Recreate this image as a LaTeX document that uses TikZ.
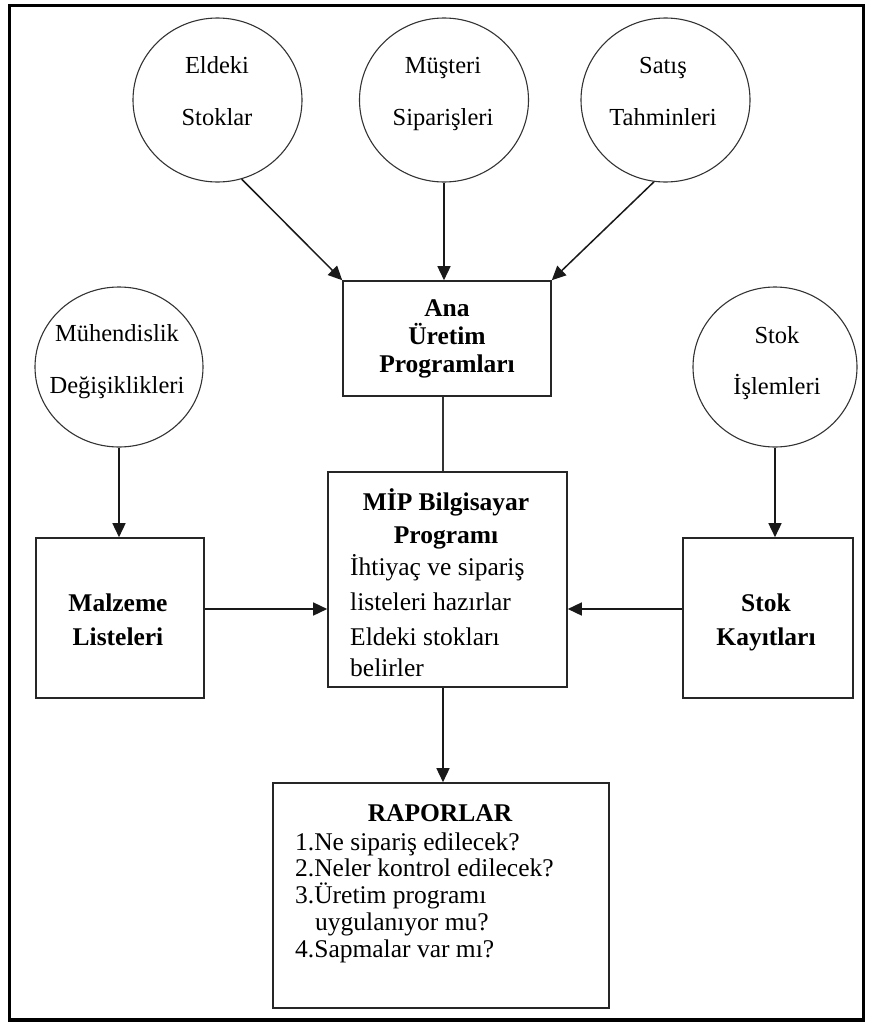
\documentclass[tikz,border=0pt]{standalone}
\usepackage{fontspec}
\setmainfont{Liberation Serif}
\usetikzlibrary{shapes.geometric,arrows.meta}
\begin{document}
\begin{tikzpicture}[x=1pt,y=-1pt,
  oval/.style={ellipse,draw=black!80,line width=1.1pt,inner sep=0pt},
  boxnode/.style={rectangle,draw=black!85,line width=1.6pt,inner sep=0pt},
  ovaltxt/.style={font=\fontsize{24.5}{28}\selectfont,inner sep=0pt,anchor=base},
  headtxt/.style={font=\fontsize{25.5}{28}\selectfont\bfseries,inner sep=0pt,anchor=base},
  bodytxt/.style={font=\fontsize{25.5}{28}\selectfont,inner sep=0pt,anchor=base west},
  arr/.style={draw=black!90,line width=1.5pt,-{Triangle[length=14pt,width=13pt]}},
  link/.style={draw=black!80,line width=1.5pt}]
\useasboundingbox (0,0) rectangle (869,1028);

% outer frame
\draw[line width=3.5pt] (9.5,5.5) rectangle (863.5,1020);

% input ovals
\node[oval,minimum width=169pt,minimum height=164pt] (e1) at (217.5,100) {};
\node[oval,minimum width=169pt,minimum height=164pt] (e2) at (444,100) {};
\node[oval,minimum width=169pt,minimum height=164pt] (e3) at (665.5,100) {};
\node[oval,minimum width=168pt,minimum height=160pt] (e4) at (119,367) {};
\node[oval,minimum width=164pt,minimum height=160pt] (e5) at (775,367) {};

\node[ovaltxt] (e1a) at (217,73) {Eldeki};
\node[ovaltxt] (e1b) at (217,125) {Stoklar};
\node[ovaltxt] (e2a) at (443,73) {Müşteri};
\node[ovaltxt] (e2b) at (443,125) {Siparişleri};
\node[ovaltxt] (e3a) at (663,73) {Satış};
\node[ovaltxt] (e3b) at (663,125) {Tahminleri};
\node[ovaltxt] (e4a) at (117,341) {Mühendislik};
\node[ovaltxt] (e4b) at (117,393) {Değişiklikleri};
\node[ovaltxt] (e5a) at (777,343) {Stok};
\node[ovaltxt] (e5b) at (777,394) {İşlemleri};

% boxes
\node[boxnode,minimum width=208pt,minimum height=115pt] (ana) at (447,338.5) {};
\node[boxnode,minimum width=239pt,minimum height=215pt] (mip) at (447.5,579.5) {};
\node[boxnode,minimum width=168pt,minimum height=160pt] (mal) at (120,618) {};
\node[boxnode,minimum width=170pt,minimum height=160pt] (stk) at (768,618) {};
\node[boxnode,minimum width=336pt,minimum height=225pt] (rap) at (441,895.5) {};

\node[headtxt] (ana1) at (447,316) {Ana};
\node[headtxt] (ana2) at (447,344) {Üretim};
\node[headtxt] (ana3) at (447,372) {Programları};

\node[headtxt] (mip1) at (446,510) {MİP Bilgisayar};
\node[headtxt] (mip2) at (446,543) {Programı};
\node[bodytxt] (mip3) at (350,575) {İhtiyaç ve sipariş};
\node[bodytxt] (mip4) at (350,610) {listeleri hazırlar};
\node[bodytxt] (mip5) at (350,645) {Eldeki stokları};
\node[bodytxt] (mip6) at (350,676) {belirler};

\node[headtxt] (mal1) at (118,611) {Malzeme};
\node[headtxt] (mal2) at (118,645) {Listeleri};
\node[headtxt] (stk1) at (766,611) {Stok};
\node[headtxt] (stk2) at (766,645) {Kayıtları};

\node[headtxt] (rap0) at (440,821) {RAPORLAR};
\node[bodytxt] (rap1) at (295,850) {1.Ne sipariş edilecek?};
\node[bodytxt] (rap2) at (295,876) {2.Neler kontrol edilecek?};
\node[bodytxt] (rap3) at (295,903) {3.Üretim programı};
\node[bodytxt] (rap4) at (315,930) {uygulanıyor mu?};
\node[bodytxt] (rap5) at (295,957) {4.Sapmalar var mı?};

% connectors
\draw[arr] (e1.-73) -- (ana.north west);
\draw[arr] (e2.south) -- (e2.south |- ana.north);
\draw[arr] (e3.-98) -- (ana.north east);
\draw[link] ([xshift=-4pt]ana.south) -- ([xshift=-4pt]ana.south |- mip.north);
\draw[arr] (e4.south) -- (e4.south |- mal.north);
\draw[arr] (e5.south) -- (e5.south |- stk.north);
\draw[arr] ([yshift=9pt]mal.east) -- ([yshift=9pt]mal.east -| mip.west);
\draw[arr] ([yshift=9pt]stk.west) -- ([yshift=9pt]stk.west -| mip.east);
\draw[arr] ([xshift=-4.5pt]mip.south) -- ([xshift=-4.5pt]mip.south |- rap.north);
\end{tikzpicture}
\end{document}
